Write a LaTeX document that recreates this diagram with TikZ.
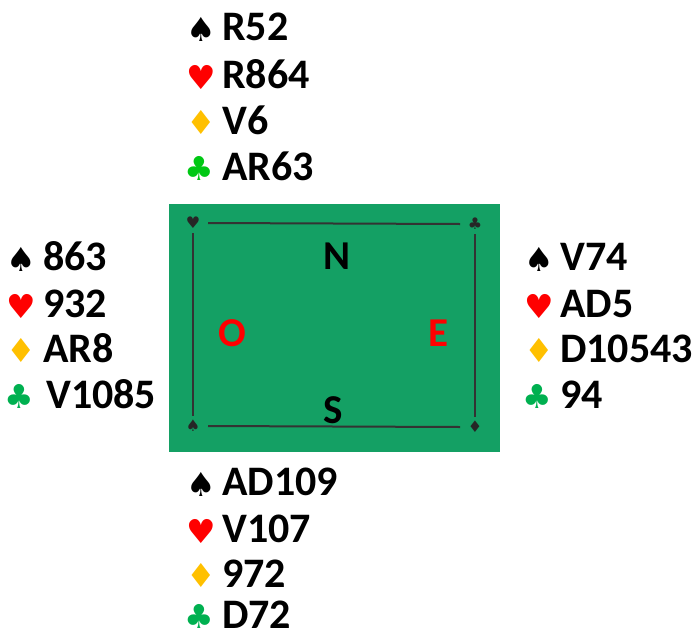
\documentclass[tikz,border=0pt]{standalone}
\usepackage{fontspec}
\setmainfont{Carlito}
\newfontfamily\suitfont{DejaVu Sans}
\usetikzlibrary{positioning}

\definecolor{tablegreen}{RGB}{20,160,100}
\definecolor{heartred}{RGB}{255,0,0}
\definecolor{diamondgold}{RGB}{255,192,0}
\definecolor{clubgreen}{RGB}{0,176,80}
\definecolor{clublight}{RGB}{0,200,20}

\begin{document}
\begin{tikzpicture}[
    x=1pt, y=-1pt,
    cards/.style={
        anchor=base west,
        inner sep=0pt,
        font=\fontsize{42}{42}\selectfont\bfseries
    },
    suit/.style={ % Suit symbol in front of a holding
        anchor=base west,
        inner sep=0pt,
        font=\fontsize{33}{33}\suitfont
    },
    seat/.style={ % Compass letter on the table
        inner sep=0pt,
        font=\fontsize{41}{41}\selectfont\bfseries
    },
    corner/.style={
        inner sep=0pt,
        font=\fontsize{16}{16}\suitfont,
        text=black!85
    },
    edge/.style={
        draw=black!80,
        line width=2pt
    }
]

    \useasboundingbox (0,0) rectangle (698,637);

    % Table
    \node[draw=none, fill=tablegreen, minimum width=331pt, minimum height=248pt,
          inner sep=0pt] (table) at (334.5,328) {};
    \node[corner] (cnw) at (193,223) {♥};
    \node[corner] (cne) at (475,224) {♣};
    \node[corner] (csw) at (193,426) {♠};
    \node[corner] (cse) at (475,427) {♦};
    \draw[edge] ([xshift=15pt]cnw.center) -- ([xshift=-15pt]cne.center);
    \draw[edge] ([xshift=15pt]csw.center) -- ([xshift=-15pt]cse.center);
    \draw[edge] ([yshift=-10pt]cnw.center) -- ([yshift=10pt]csw.center);
    \draw[edge] ([yshift=-10pt]cne.center) -- ([yshift=10pt]cse.center);

    \node[seat] (north) at (337,256) {N};
    \node[seat, text=heartred] (west) at (232,333) {O};
    \node[seat, text=heartred] (east) at (438,333) {E};
    \node[seat] (south) at (333,410) {S};


    % North hand
    \node[suit] (ns) at (186,41) {♠};
    \node[cards] (nsc) at (222,40) {R52};
    \node[suit, text=heartred] (nh) at (186,89) {♥};
    \node[cards] (nhc) at (222,88) {R864};
    \node[suit, text=diamondgold] (nd) at (186,134) {♦};
    \node[cards] (ndc) at (222,134) {V6};
    \node[suit, text=clublight] (nc) at (184,180) {♣};
    \node[cards] (ncc) at (222,180) {AR63};

    % West hand
    \node[suit] (ws) at (6,271) {♠};
    \node[cards] (wsc) at (43,270) {863};
    \node[suit, text=heartred] (wh) at (6,318) {♥};
    \node[cards] (whc) at (43,317) {932};
    \node[suit, text=diamondgold] (wd) at (6,362) {♦};
    \node[cards] (wdc) at (43,362) {AR8};
    \node[suit, text=clubgreen] (wc) at (4,408) {♣};
    \node[cards] (wcc) at (46,408) {V1085};

    % East hand
    \node[suit] (es) at (524,271) {♠};
    \node[cards] (esc) at (560,270) {V74};
    \node[suit, text=heartred] (eh) at (524,318) {♥};
    \node[cards] (ehc) at (560,317) {AD5};
    \node[suit, text=diamondgold] (ed) at (524,362) {♦};
    \node[cards] (edc) at (560,362) {D10543};
    \node[suit, text=clubgreen] (ec) at (522,408) {♣};
    \node[cards] (ecc) at (560,408) {94};

    % South hand
    \node[suit] (ss) at (186,496) {♠};
    \node[cards] (ssc) at (222,495) {AD109};
    \node[suit, text=heartred] (sh) at (186,543) {♥};
    \node[cards] (shc) at (222,542) {V107};
    \node[suit, text=diamondgold] (sd) at (186,587) {♦};
    \node[cards] (sdc) at (222,587) {972};
    \node[suit, text=clubgreen] (sc) at (184,628) {♣};
    \node[cards] (scc) at (222,628) {D72};

\end{tikzpicture}
\end{document}
